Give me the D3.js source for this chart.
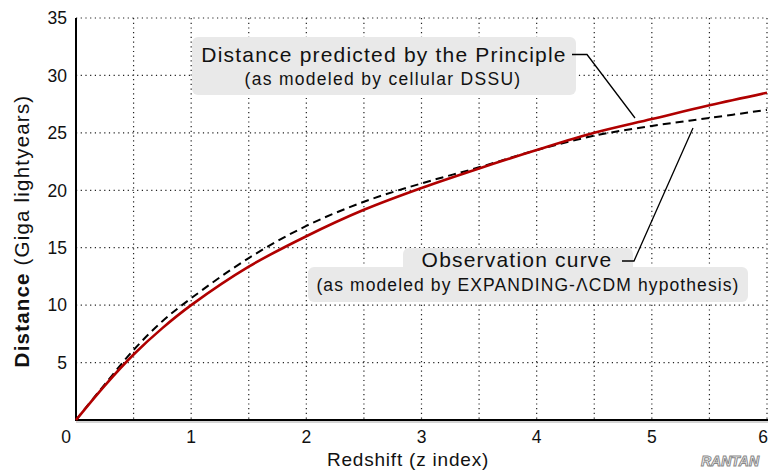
<!DOCTYPE html>
<html>
<head>
<meta charset="utf-8">
<script src="https://cdn.jsdelivr.net/npm/d3@7"></script>
<style>
  body { margin: 0; background: #fff; }
  svg { display: block; font-family: "Liberation Sans", Arial, sans-serif; }
</style>
</head>
<body>
<svg id="chart" width="768" height="474"></svg>
<script>
// redshift sample points
const redshift = [0, 0.25, 0.5, 0.75, 1, 1.5, 2, 2.5, 3, 3.5, 4, 4.5, 5, 5.5, 6];
// distance predicted by the Principle (cellular DSSU), Giga lightyears
const dssuDistance = [0, 3.0, 5.7, 8.0, 10.0, 13.35, 16.0, 18.3, 20.2, 21.9, 23.5, 25.0, 26.2, 27.4, 28.5];
// observation curve (expanding LCDM)
const lcdmDistance = [0, 3.1, 6.1, 8.6, 10.6, 14.1, 16.9, 19.0, 20.6, 22.0, 23.5, 24.75, 25.6, 26.3, 27.0];

const xTicks = [0, 1, 2, 3, 4, 5, 6];
const yTicks = [5, 10, 15, 20, 25, 30, 35];
const xGrid = d3.range(0.5, 6.01, 0.5);
const yGrid = [5, 10, 15, 20, 25, 30, 35];

const svg = d3.select("#chart");
const margin = {left: 76, right: 1, top: 18, bottom: 54};
const W = 768, H = 474;

const x = d3.scaleLinear().domain([0, 6]).range([margin.left, W - margin.right]);
const y = d3.scaleLinear().domain([0, 35]).range([H - margin.bottom, margin.top]);

// grid
const grid = svg.append("g").attr("stroke", "#222").attr("stroke-width", 1.2)
  .attr("stroke-dasharray", "1.2,3.5");
grid.selectAll(".vg").data(xGrid).enter().append("line")
  .attr("x1", d => x(d)).attr("x2", d => x(d))
  .attr("y1", y(35)).attr("y2", y(0));
grid.selectAll(".hg").data(yGrid).enter().append("line")
  .attr("x1", x(0)).attr("x2", x(6))
  .attr("y1", d => y(d)).attr("y2", d => y(d));

// axes lines
svg.append("line").attr("x1", x(0)).attr("x2", x(0)).attr("y1", y(35)).attr("y2", y(0) + 1)
  .attr("stroke", "#000").attr("stroke-width", 2);
svg.append("line").attr("x1", x(0) - 1).attr("x2", W).attr("y1", y(0)).attr("y2", y(0))
  .attr("stroke", "#000").attr("stroke-width", 2.2);
svg.append("line").attr("x1", x(0)).attr("x2", W).attr("y1", y(0) + 2).attr("y2", y(0) + 2)
  .attr("stroke", "#aaa").attr("stroke-width", 1);

// tick labels
svg.selectAll(".xt").data(xTicks).enter().append("text")
  .attr("x", d => d === 0 ? x(d) - 10 : (d === 6 ? x(d) - 4 : x(d)))
  .attr("y", 443)
  .attr("text-anchor", "middle")
  .attr("font-size", 17.5)
  .attr("fill", "#111")
  .text(d => d);
svg.selectAll(".yt").data(yTicks).enter().append("text")
  .attr("x", 67)
  .attr("y", d => y(d))
  .attr("dy", "0.36em")
  .attr("text-anchor", "end")
  .attr("font-size", 17.5)
  .attr("fill", "#111")
  .text(d => d);

// axis titles
svg.append("text").attr("x", 408).attr("y", 466).attr("text-anchor", "middle")
  .attr("font-size", 19).attr("letter-spacing", 0.8).attr("fill", "#111").text("Redshift (z index)");
const yt = svg.append("text")
  .attr("transform", "translate(29," + 231 + ") rotate(-90)")
  .attr("text-anchor", "middle").attr("font-size", 20.5).attr("letter-spacing", 1.2).attr("fill", "#111");
yt.append("tspan").attr("font-weight", "bold").text("Distance");
yt.append("tspan").text(" (Giga lightyears)");

// curves
const line = (vals) => d3.line()
  .x((d, i) => x(redshift[i]))
  .y(d => y(d))
  .curve(d3.curveCatmullRom.alpha(0.5))(vals);

svg.append("path").attr("d", line(lcdmDistance))
  .attr("fill", "none").attr("stroke", "#000").attr("stroke-width", 2)
  .attr("stroke-dasharray", "8,5");
svg.append("path").attr("d", line(dssuDistance))
  .attr("fill", "none").attr("stroke", "#b00000").attr("stroke-width", 2.6);

// annotation 1
svg.append("rect").attr("x", 192).attr("y", 37).attr("width", 384).attr("height", 58)
  .attr("rx", 6).attr("fill", "#e9e9e9");
svg.append("text").attr("x", 384).attr("y", 62).attr("text-anchor", "middle")
  .attr("font-size", 21).attr("letter-spacing", 1.2).attr("fill", "#111")
  .text("Distance predicted by the Principle");
svg.append("text").attr("x", 383).attr("y", 85).attr("text-anchor", "middle")
  .attr("font-size", 17.5).attr("letter-spacing", 1.3).attr("fill", "#111")
  .text("(as modeled by cellular DSSU)");
svg.append("path").attr("d", "M572,54.5L587,54.5L635,118")
  .attr("fill", "none").attr("stroke", "#000").attr("stroke-width", 1.3);

// annotation 2
svg.append("rect").attr("x", 403).attr("y", 248).attr("width", 230).attr("height", 26)
  .attr("rx", 6).attr("fill", "#e9e9e9");
svg.append("rect").attr("x", 308).attr("y", 267).attr("width", 440).attr("height", 35)
  .attr("rx", 6).attr("fill", "#e9e9e9");
svg.append("text").attr("x", 517).attr("y", 267).attr("text-anchor", "middle")
  .attr("font-size", 21).attr("letter-spacing", 1.2).attr("fill", "#111")
  .text("Observation curve");
svg.append("text").attr("x", 528).attr("y", 291).attr("text-anchor", "middle")
  .attr("font-size", 17.5).attr("letter-spacing", 1.1).attr("fill", "#111")
  .text("(as modeled by EXPANDING-\u039BCDM hypothesis)");
svg.append("path").attr("d", "M622,261L634,261L693,128")
  .attr("fill", "none").attr("stroke", "#000").attr("stroke-width", 1.3);

// watermark
svg.append("text").attr("x", 759).attr("y", 466).attr("text-anchor", "end")
  .attr("font-size", 14).attr("font-style", "italic").attr("font-weight", "bold")
  .attr("fill", "#fff").attr("stroke", "#888").attr("stroke-width", 1)
  .text("RANTAN");
</script>
</body>
</html>
